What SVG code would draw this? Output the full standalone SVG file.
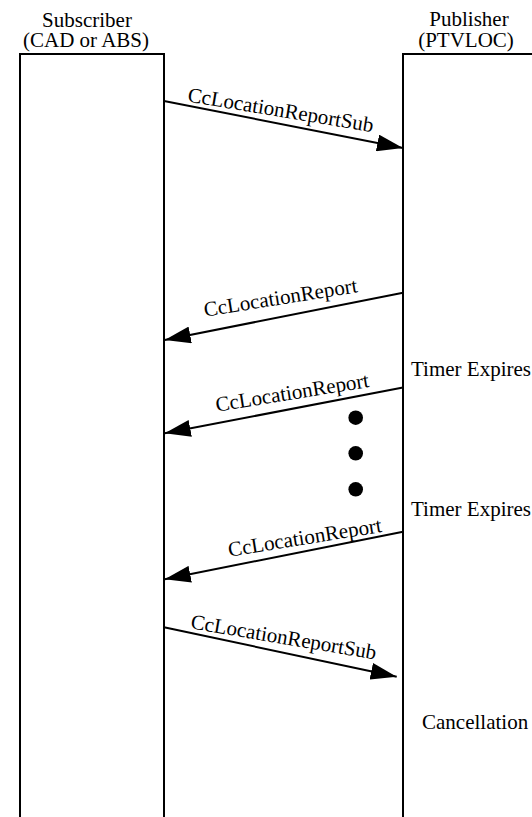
<svg xmlns="http://www.w3.org/2000/svg" width="532" height="817" viewBox="0 0 532 817">
<style>
text{font-family:"Liberation Serif","Times New Roman",serif;font-size:21px;fill:#000}
.life{fill:none;stroke:#000;stroke-width:2}
.msg{stroke:#000;stroke-width:2;fill:none}
.mid{text-anchor:middle}
</style>
<defs>
<marker id="ah" markerUnits="userSpaceOnUse" markerWidth="27" markerHeight="17" viewBox="0 0 27 17" refX="26" refY="8.5" orient="auto">
<path d="M0,0 L26,8.5 L0,17 z" fill="#000"/>
</marker>
</defs>
<g id="subscriber">
<path class="life" d="M20,817 V54 H164 V817"/>
<text class="mid" x="87" y="27">Subscriber</text>
<text class="mid" x="86" y="47">(CAD or ABS)</text>
</g>
<g id="publisher">
<path class="life" d="M403,817 V54 H534"/>
<text class="mid" x="469" y="26">Publisher</text>
<text class="mid" x="466" y="47">(PTVLOC)</text>
</g>
<g id="notes">
<text x="411" y="376">Timer Expires</text>
<text x="411" y="516">Timer Expires</text>
<text x="422" y="729">Cancellation</text>
<circle cx="355.7" cy="417.7" r="7.3"/>
<circle cx="355.7" cy="453.3" r="7.3"/>
<circle cx="355.7" cy="489.3" r="7.3"/>
</g>
<g id="connectors">
<line class="msg" x1="164" y1="101" x2="403" y2="148" marker-end="url(#ah)"/>
<text transform="translate(187,101.5) rotate(9.4)">CcLocationReportSub</text>
<line class="msg" x1="403" y1="292.7" x2="164.7" y2="340" marker-end="url(#ah)"/>
<text transform="translate(205,316.7) rotate(-9.1)">CcLocationReport</text>
<line class="msg" x1="403" y1="387.5" x2="164.7" y2="433.3" marker-end="url(#ah)"/>
<text transform="translate(216.7,411.7) rotate(-9.2)">CcLocationReport</text>
<line class="msg" x1="403" y1="531.8" x2="164.7" y2="579.3" marker-end="url(#ah)"/>
<text transform="translate(229.3,556.7) rotate(-9.2)">CcLocationReport</text>
<line class="msg" x1="164" y1="627.3" x2="396.7" y2="676.7" marker-end="url(#ah)"/>
<text transform="translate(190,628.3) rotate(9.6)">CcLocationReportSub</text>
</g>
</svg>
